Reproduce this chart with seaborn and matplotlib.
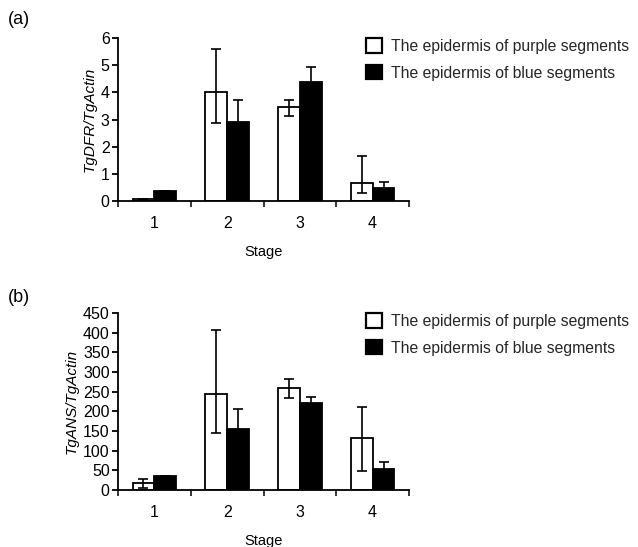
import numpy as np
import pandas as pd
import matplotlib
matplotlib.use("Agg")
import matplotlib.pyplot as plt
from matplotlib.patches import Patch
from matplotlib.ticker import FixedLocator
import seaborn as sns

# Expression data per developmental stage
stages = ["1", "2", "3", "4"]
series_names = ["The epidermis of purple segments", "The epidermis of blue segments"]

dfr_purple = [0.07, 4.02, 3.47, 0.67]
dfr_purple_err_low = [0.02, 1.14, 0.34, 0.39]
dfr_purple_err_high = [0.02, 1.59, 0.25, 1.00]
dfr_blue = [0.37, 2.90, 4.39, 0.47]
dfr_blue_err = [0.0, 0.80, 0.53, 0.22]

ans_purple = [17, 243, 260, 131]
ans_purple_err_low = [12, 99, 27, 82]
ans_purple_err_high = [12, 165, 22, 79]
ans_blue = [36, 155, 220, 53]
ans_blue_err = [0, 51, 17, 19]

sns.set_theme(style="white")
plt.rcParams["font.family"] = ["Liberation Sans", "DejaVu Sans"]
plt.rcParams["axes.linewidth"] = 1.3

FS = 11.5
fig = plt.figure(figsize=(6.38, 5.47), dpi=100)


def draw_panel(ax, purple, p_lo, p_hi, blue, b_err, ylabel, ymax, ystep):
    df = pd.DataFrame({
        "Stage": stages * 2,
        "value": list(purple) + list(blue),
        "series": [series_names[0]] * len(stages) + [series_names[1]] * len(stages),
    })
    sns.barplot(data=df, x="Stage", y="value", hue="series", order=stages,
                hue_order=series_names, palette=["white", "black"],
                edgecolor="black", linewidth=1.3, width=0.6, gap=0,
                errorbar=None, legend=False, ax=ax)
    bar_groups = list(ax.containers)[:2]
    errs = [(p_lo, p_hi), (b_err, b_err)]
    vals = [purple, blue]
    for k, cont in enumerate(bar_groups):
        xs = [b.get_x() + b.get_width() / 2 for b in cont.patches]
        lo, hi = errs[k]
        ax.errorbar(xs, vals[k], yerr=[lo, hi], fmt="none", ecolor="black",
                    elinewidth=1.2, capsize=3.5, capthick=1.2, zorder=5)
    ax.set_xlim(-0.5, len(stages) - 0.5)
    ax.set_ylim(0, ymax)
    ax.set_yticks(np.arange(0, ymax + ystep / 2, ystep))
    ax.xaxis.set_minor_locator(FixedLocator(np.arange(-0.5, len(stages), 1.0)))
    ax.tick_params(axis="x", which="major", length=0, pad=11, labelsize=FS, colors="black")
    ax.tick_params(axis="x", which="minor", length=4, width=1.3, direction="out", bottom=True)
    ax.tick_params(axis="y", length=4, width=1.3, direction="out", left=True,
                   labelsize=FS, colors="black", pad=2)
    for s in ["top", "right"]:
        ax.spines[s].set_visible(False)
    for s in ["left", "bottom"]:
        ax.spines[s].set_color("black")
    ax.set_xlabel("Stage", fontsize=10.5, labelpad=10, color="black")
    ax.set_ylabel(ylabel, fontsize=FS - 0.5, style="italic", color="black", labelpad=3)
    handles = [Patch(facecolor="white", edgecolor="black", linewidth=1.6),
               Patch(facecolor="black", edgecolor="black", linewidth=1.6)]
    return handles


legend_kw = dict(loc="upper left", frameon=False, fontsize=11.3, handlelength=1.05,
                 handleheight=1.05, handletextpad=0.55, labelspacing=0.72,
                 borderaxespad=0, borderpad=0)

ax_a = fig.add_axes([118 / 638, 1 - 201 / 547, 291 / 638, 163 / 547])
h = draw_panel(ax_a, dfr_purple, dfr_purple_err_low, dfr_purple_err_high,
               dfr_blue, dfr_blue_err, "TgDFR/TgActin", 6, 1)
fig.legend(h, series_names, bbox_to_anchor=(366 / 638, 1 - 38 / 547), **legend_kw)

ax_b = fig.add_axes([118 / 638, 1 - 490 / 547, 291 / 638, 177 / 547])
h = draw_panel(ax_b, ans_purple, ans_purple_err_low, ans_purple_err_high,
               ans_blue, ans_blue_err, "TgANS/TgActin", 450, 50)
fig.legend(h, series_names, bbox_to_anchor=(366 / 638, 1 - 313 / 547), **legend_kw)

fig.text(8 / 638, 1 - 20 / 547, "(a)", fontsize=13, va="center", ha="left", color="black")
fig.text(8 / 638, 1 - 297 / 547, "(b)", fontsize=13, va="center", ha="left", color="black")

fig.savefig("out.png", dpi=100, facecolor="white")
